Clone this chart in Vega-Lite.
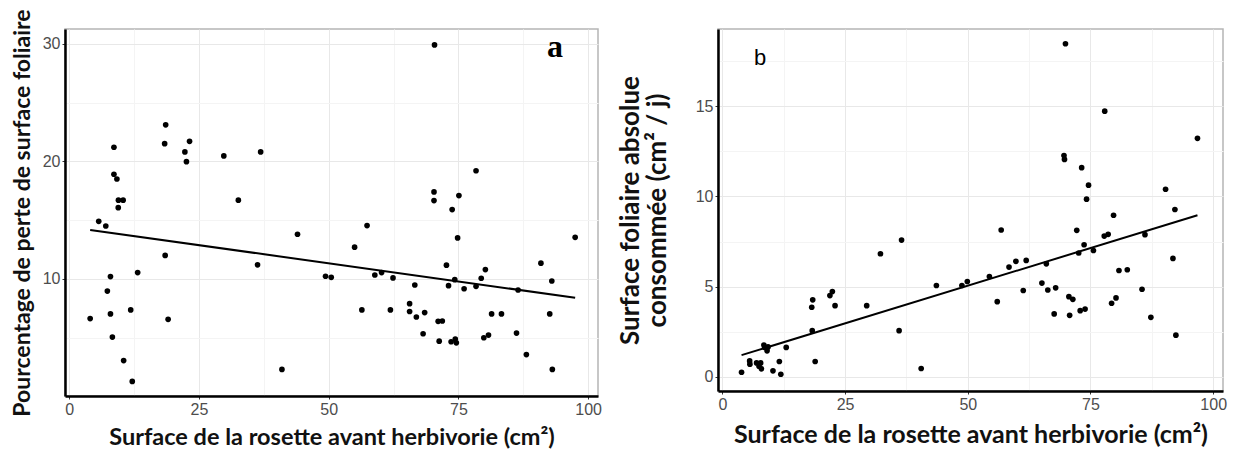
{
  "$schema": "https://vega.github.io/schema/vega-lite/v6.json",
  "background": "white",
  "padding": {"left": 10, "top": 8, "right": 5, "bottom": 0},
  "spacing": 13,
  "config": {
    "view": {"stroke": "#b5b5b5", "strokeWidth": 1.5},
    "axis": {
      "labelFont": "Liberation Sans",
      "labelFontSize": 16,
      "labelColor": "#4d4d4d",
      "titleFont": "Lato",
      "titleFontWeight": "bold",
      "titleFontSize": 20,
      "titleColor": "#111111",
      "domainColor": "#000000",
      "domainWidth": 2.5,
      "tickColor": "#333333",
      "tickSize": 3,
      "labelPadding": 2,
      "gridWidth": 1
    }
  },
  "datasets": {
    "ptsA": [
      {"x": 4.05, "y": 6.63}, {"x": 5.7, "y": 14.9}, {"x": 7.06, "y": 14.5}, {"x": 7.36, "y": 8.97},
      {"x": 7.96, "y": 10.2}, {"x": 7.96, "y": 7.03}, {"x": 8.33, "y": 5.06}, {"x": 8.63, "y": 21.2},
      {"x": 8.63, "y": 18.9}, {"x": 9.2, "y": 18.5}, {"x": 9.46, "y": 16.06}, {"x": 9.5, "y": 16.7},
      {"x": 10.4, "y": 16.7}, {"x": 10.5, "y": 3.06}, {"x": 11.86, "y": 7.37}, {"x": 12.16, "y": 1.29},
      {"x": 13.2, "y": 10.54}, {"x": 18.6, "y": 23.1}, {"x": 18.4, "y": 21.5}, {"x": 18.5, "y": 12.0},
      {"x": 19.07, "y": 6.57}, {"x": 22.3, "y": 20.8}, {"x": 22.6, "y": 19.97}, {"x": 23.2, "y": 21.7},
      {"x": 29.8, "y": 20.46}, {"x": 32.6, "y": 16.7}, {"x": 36.3, "y": 11.2}, {"x": 36.9, "y": 20.8},
      {"x": 41.0, "y": 2.31}, {"x": 44.0, "y": 13.8}, {"x": 49.4, "y": 10.23}, {"x": 50.5, "y": 10.14},
      {"x": 55.0, "y": 12.7}, {"x": 56.4, "y": 7.37}, {"x": 57.4, "y": 14.54}, {"x": 58.9, "y": 10.34},
      {"x": 60.2, "y": 10.54}, {"x": 61.9, "y": 7.37}, {"x": 62.4, "y": 10.09}, {"x": 65.6, "y": 7.9},
      {"x": 65.6, "y": 7.23}, {"x": 66.6, "y": 9.49}, {"x": 66.9, "y": 6.77}, {"x": 68.2, "y": 5.34},
      {"x": 68.5, "y": 7.14}, {"x": 70.4, "y": 29.9}, {"x": 70.3, "y": 17.4}, {"x": 70.3, "y": 16.66},
      {"x": 71.1, "y": 6.4}, {"x": 71.9, "y": 6.43}, {"x": 71.3, "y": 4.71}, {"x": 72.7, "y": 11.17},
      {"x": 73.1, "y": 9.43}, {"x": 73.8, "y": 15.9}, {"x": 73.6, "y": 4.66}, {"x": 74.3, "y": 9.94},
      {"x": 74.4, "y": 4.89}, {"x": 74.6, "y": 4.57}, {"x": 74.85, "y": 13.49}, {"x": 75.1, "y": 17.09},
      {"x": 76.1, "y": 9.17}, {"x": 78.4, "y": 19.2}, {"x": 78.4, "y": 9.37}, {"x": 79.4, "y": 10.06},
      {"x": 79.9, "y": 5.0}, {"x": 80.2, "y": 10.8}, {"x": 80.8, "y": 5.23}, {"x": 81.4, "y": 7.03},
      {"x": 83.3, "y": 7.03}, {"x": 86.2, "y": 5.4}, {"x": 86.5, "y": 9.06}, {"x": 88.1, "y": 3.57},
      {"x": 90.9, "y": 11.34}, {"x": 92.6, "y": 7.03}, {"x": 93.0, "y": 9.83}, {"x": 93.1, "y": 2.31},
      {"x": 97.5, "y": 13.54}
    ],
    "lineA": [{"x": 4.05, "y": 14.17}, {"x": 97.5, "y": 8.4}],
    "labelA": [{"x": 93.6, "y": 29.7, "t": "a"}],
    "ptsB": [
      {"x": 3.9, "y": 0.24}, {"x": 5.55, "y": 0.87}, {"x": 5.6, "y": 0.69}, {"x": 6.96, "y": 0.76},
      {"x": 7.46, "y": 0.58}, {"x": 7.8, "y": 0.76}, {"x": 7.95, "y": 0.43}, {"x": 8.45, "y": 1.75},
      {"x": 8.6, "y": 1.62}, {"x": 9.1, "y": 1.43}, {"x": 9.3, "y": 1.65}, {"x": 10.3, "y": 0.32},
      {"x": 11.6, "y": 0.84}, {"x": 11.9, "y": 0.13}, {"x": 13.0, "y": 1.62}, {"x": 18.2, "y": 3.85},
      {"x": 18.4, "y": 4.26}, {"x": 18.3, "y": 2.55}, {"x": 18.9, "y": 0.84}, {"x": 21.9, "y": 4.5},
      {"x": 22.4, "y": 4.72}, {"x": 22.95, "y": 3.94}, {"x": 29.4, "y": 3.94}, {"x": 32.2, "y": 6.82},
      {"x": 36.0, "y": 2.55}, {"x": 36.5, "y": 7.58}, {"x": 40.5, "y": 0.45}, {"x": 43.6, "y": 5.06},
      {"x": 48.8, "y": 5.06}, {"x": 49.9, "y": 5.28}, {"x": 54.4, "y": 5.56}, {"x": 56.0, "y": 4.16},
      {"x": 56.8, "y": 8.14}, {"x": 58.4, "y": 6.08}, {"x": 59.8, "y": 6.4}, {"x": 61.3, "y": 4.78},
      {"x": 61.9, "y": 6.45}, {"x": 65.1, "y": 5.19}, {"x": 66.0, "y": 6.26}, {"x": 66.3, "y": 4.81},
      {"x": 67.6, "y": 3.48}, {"x": 67.9, "y": 4.93}, {"x": 69.6, "y": 12.27}, {"x": 69.7, "y": 12.06},
      {"x": 69.9, "y": 18.48}, {"x": 70.6, "y": 4.44}, {"x": 70.75, "y": 3.4}, {"x": 71.4, "y": 4.29},
      {"x": 72.2, "y": 8.12}, {"x": 72.6, "y": 6.86}, {"x": 72.9, "y": 3.66}, {"x": 73.2, "y": 11.6},
      {"x": 73.7, "y": 7.32}, {"x": 73.9, "y": 3.75}, {"x": 74.2, "y": 9.85}, {"x": 74.6, "y": 10.63},
      {"x": 75.6, "y": 7.0}, {"x": 77.8, "y": 7.8}, {"x": 78.6, "y": 7.9}, {"x": 77.9, "y": 14.74},
      {"x": 79.3, "y": 4.07}, {"x": 79.7, "y": 8.96}, {"x": 80.2, "y": 4.37}, {"x": 80.8, "y": 5.89},
      {"x": 82.5, "y": 5.93}, {"x": 85.5, "y": 4.85}, {"x": 86.1, "y": 7.88}, {"x": 87.3, "y": 3.29},
      {"x": 90.3, "y": 10.4}, {"x": 91.8, "y": 6.56}, {"x": 92.2, "y": 9.28}, {"x": 92.4, "y": 2.3},
      {"x": 96.8, "y": 13.23}
    ],
    "lineB": [{"x": 3.9, "y": 1.19}, {"x": 96.8, "y": 8.96}],
    "labelB": [{"x": 7.7, "y": 17.7, "t": "b"}]
  },
  "hconcat": [
    {
      "width": 533,
      "height": 367,
      "layer": [
        {
          "data": {"name": "ptsA"},
          "mark": {"type": "circle", "size": 32, "color": "#000000", "opacity": 1},
          "encoding": {
            "x": {
              "field": "x", "type": "quantitative",
              "scale": {"domain": [-0.8, 101.9], "nice": false, "zero": false},
              "axis": {
                "title": "Surface de la rosette avant herbivorie (cm²)",
                "titleFontSize": 23.5,
                "titlePadding": 8,
                "values": [0, 12.5, 25, 37.5, 50, 62.5, 75, 87.5, 100],
                "labelExpr": "datum.value % 25 === 0 ? datum.label : ''",
                "gridColor": {"condition": {"test": "datum.value % 25 === 0", "value": "#e8e8e8"}, "value": "#f4f4f4"},
                "tickOpacity": {"condition": {"test": "datum.value % 25 === 0", "value": 1}, "value": 0}
              }
            },
            "y": {
              "field": "y", "type": "quantitative",
              "scale": {"domain": [0.05, 31.25], "nice": false, "zero": false},
              "axis": {
                "title": "Pourcentage de perte de surface foliaire",
                "titleFontSize": 23,
                "titlePadding": 8,
                "values": [5, 10, 15, 20, 25, 30],
                "labelExpr": "datum.value % 10 === 0 ? datum.label : ''",
                "gridColor": {"condition": {"test": "datum.value % 10 === 0", "value": "#e8e8e8"}, "value": "#f4f4f4"},
                "tickOpacity": {"condition": {"test": "datum.value % 10 === 0", "value": 1}, "value": 0}
              }
            }
          }
        },
        {
          "data": {"name": "lineA"},
          "mark": {"type": "line", "color": "#000000", "strokeWidth": 2},
          "encoding": {
            "x": {"field": "x", "type": "quantitative"},
            "y": {"field": "y", "type": "quantitative"}
          }
        },
        {
          "data": {"name": "labelA"},
          "mark": {"type": "text", "font": "Liberation Serif", "fontWeight": "bold", "fontSize": 32, "color": "#000000", "baseline": "middle", "align": "center"},
          "encoding": {
            "x": {"field": "x", "type": "quantitative"},
            "y": {"field": "y", "type": "quantitative"},
            "text": {"field": "t"}
          }
        }
      ]
    },
    {
      "width": 505,
      "height": 362,
      "layer": [
        {
          "data": {"name": "ptsB"},
          "mark": {"type": "circle", "size": 32, "color": "#000000", "opacity": 1},
          "encoding": {
            "x": {
              "field": "x", "type": "quantitative",
              "scale": {"domain": [-0.9, 102], "nice": false, "zero": false},
              "axis": {
                "title": "Surface de la rosette avant herbivorie (cm²)",
                "titleFontSize": 25,
                "titlePadding": 10,
                "values": [0, 12.5, 25, 37.5, 50, 62.5, 75, 87.5, 100],
                "labelExpr": "datum.value % 25 === 0 ? datum.label : ''",
                "gridColor": {"condition": {"test": "datum.value % 25 === 0", "value": "#e8e8e8"}, "value": "#f4f4f4"},
                "tickOpacity": {"condition": {"test": "datum.value % 25 === 0", "value": 1}, "value": 0}
              }
            },
            "y": {
              "field": "y", "type": "quantitative",
              "scale": {"domain": [-0.8, 19.3], "nice": false, "zero": false},
              "axis": {
                "title": ["Surface foliaire absolue", "consommée (cm² / j)"],
                "titleFontSize": 26,
                "titleLineHeight": 27,
                "titlePadding": 25,
                "values": [0, 2.5, 5, 7.5, 10, 12.5, 15, 17.5],
                "labelExpr": "datum.value % 5 === 0 ? datum.label : ''",
                "gridColor": {"condition": {"test": "datum.value % 5 === 0", "value": "#e8e8e8"}, "value": "#f4f4f4"},
                "tickOpacity": {"condition": {"test": "datum.value % 5 === 0", "value": 1}, "value": 0}
              }
            }
          }
        },
        {
          "data": {"name": "lineB"},
          "mark": {"type": "line", "color": "#000000", "strokeWidth": 2},
          "encoding": {
            "x": {"field": "x", "type": "quantitative"},
            "y": {"field": "y", "type": "quantitative"}
          }
        },
        {
          "data": {"name": "labelB"},
          "mark": {"type": "text", "font": "Liberation Sans", "fontSize": 22, "color": "#000000", "baseline": "middle", "align": "center"},
          "encoding": {
            "x": {"field": "x", "type": "quantitative"},
            "y": {"field": "y", "type": "quantitative"},
            "text": {"field": "t"}
          }
        }
      ]
    }
  ]
}
